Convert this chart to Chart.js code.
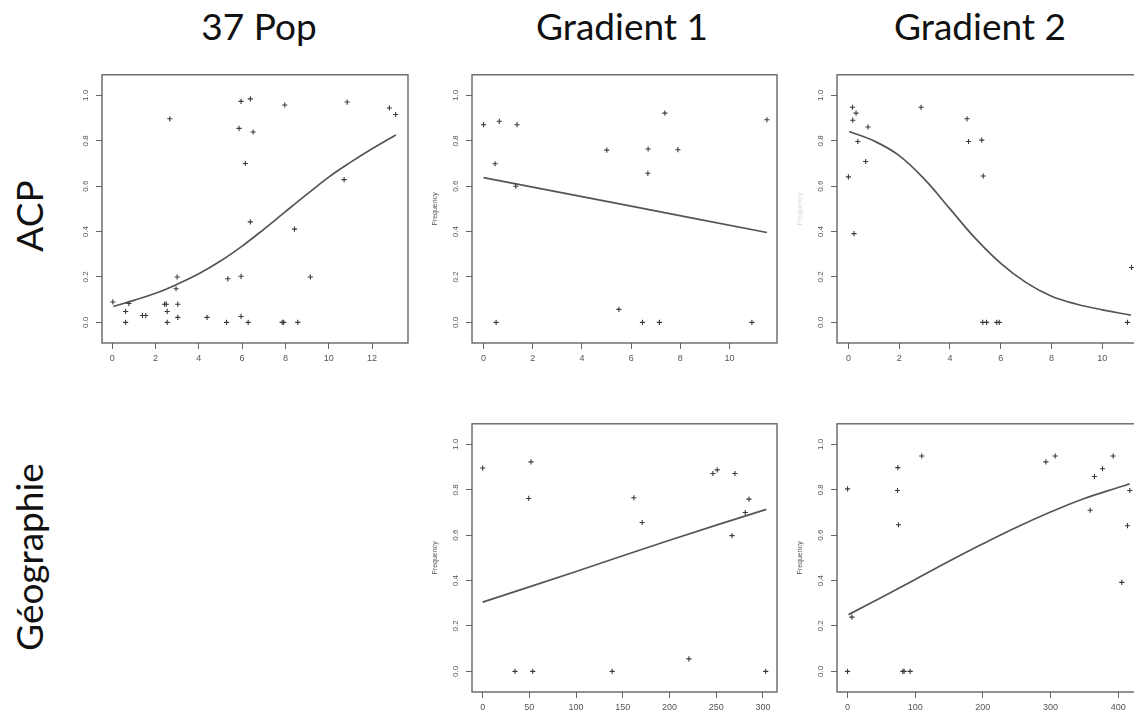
<!DOCTYPE html>
<html>
<head>
<meta charset="utf-8">
<script src="https://cdn.jsdelivr.net/npm/chart.js"></script>
<style>
  html, body { margin: 0; padding: 0; background: #fff; }
  body { width: 1134px; height: 715px; position: relative; overflow: hidden; }
  canvas { position: absolute; }
  .titre { position: absolute; top: 3px; font-family: Lato, sans-serif; font-size: 37px; color: #111; transform: translateX(-50%); white-space: nowrap; }
  .ligne { position: absolute; font-family: Lato, sans-serif; font-size: 37px; color: #111; transform: translate(-50%, -50%) rotate(-90deg); white-space: nowrap; }
</style>
</head>
<body>
<div class="titre" style="left:259px">37 Pop</div>
<div class="titre" style="left:622px">Gradient 1</div>
<div class="titre" style="left:980px">Gradient 2</div>
<div class="ligne" style="left:28px; top:216px">ACP</div>
<div class="ligne" style="left:28px; top:557px">Géographie</div>

<canvas id="pop37"></canvas>
<canvas id="grad1Acp"></canvas>
<canvas id="grad2Acp"></canvas>
<canvas id="grad1Geo"></canvas>
<canvas id="grad2Geo"></canvas>

<script>
// --- donnees ---
const yTicks = [0, 0.2, 0.4, 0.6, 0.8, 1.0];

// 37 Pop / ACP
const pop37X = [0.03, 0.62, 0.62, 0.77, 1.40, 1.55, 2.42, 2.50, 2.54, 2.54, 2.66, 3.0, 2.95, 3.03, 3.03, 4.38, 5.28, 5.34, 5.95, 5.95, 5.86, 5.95, 6.15, 6.28, 6.38, 6.38, 6.51, 7.97, 7.85, 7.92, 8.42, 8.57, 9.15, 10.71, 10.85, 12.8, 13.09];
const pop37Y = [0.09, 0.048, 0.0, 0.083, 0.03, 0.03, 0.08, 0.08, 0.048, 0.0, 0.897, 0.2, 0.148, 0.08, 0.022, 0.022, 0.0, 0.192, 0.026, 0.203, 0.855, 0.974, 0.70, 0.0, 0.985, 0.443, 0.839, 0.958, 0.0, 0.0, 0.411, 0.0, 0.2, 0.629, 0.971, 0.945, 0.916];
const pop37FitX = [0.05, 1, 2, 3, 4, 5, 6, 7, 8, 9, 10, 11, 12, 13.1];
const pop37FitY = [0.07, 0.097, 0.128, 0.168, 0.214, 0.27, 0.336, 0.41, 0.488, 0.565, 0.64, 0.705, 0.765, 0.826];
const pop37XTicks = [0, 2, 4, 6, 8, 10, 12];

// Gradient 1 / ACP
const grad1AcpX = [0.0, 0.47, 0.51, 0.64, 1.36, 1.31, 5.01, 5.5, 6.46, 6.68, 6.69, 7.15, 7.37, 7.9, 10.91, 11.52];
const grad1AcpY = [0.871, 0.699, 0.0, 0.886, 0.871, 0.60, 0.759, 0.057, 0.0, 0.657, 0.764, 0.0, 0.922, 0.761, 0.0, 0.893];
const grad1AcpFitX = [0, 6, 11.52];
const grad1AcpFitY = [0.638, 0.512, 0.396];
const grad1AcpXTicks = [0, 2, 4, 6, 8, 10];

// Gradient 2 / ACP
const grad2AcpX = [0.0, 0.16, 0.17, 0.22, 0.30, 0.37, 0.68, 0.77, 2.86, 4.67, 4.73, 5.25, 5.31, 5.29, 5.44, 5.84, 5.94, 10.99, 11.15];
const grad2AcpY = [0.641, 0.948, 0.891, 0.391, 0.922, 0.797, 0.709, 0.861, 0.948, 0.897, 0.797, 0.803, 0.645, 0.0, 0.0, 0.0, 0.0, 0.0, 0.242];
const grad2AcpFitX = [0.03, 1, 2, 3, 4, 5, 6, 7, 8, 9, 10, 11.12];
const grad2AcpFitY = [0.841, 0.80, 0.735, 0.63, 0.50, 0.37, 0.26, 0.175, 0.115, 0.08, 0.055, 0.032];
const grad2AcpXTicks = [0, 2, 4, 6, 8, 10];

// Gradient 1 / Geographie
const grad1GeoX = [0, 34.6, 49.3, 51.8, 53.6, 138.6, 161.8, 170.7, 220.7, 246.4, 251, 266.8, 270, 281, 285, 302.9];
const grad1GeoY = [0.896, 0.0, 0.762, 0.923, 0.0, 0.0, 0.765, 0.656, 0.055, 0.872, 0.888, 0.598, 0.872, 0.70, 0.759, 0.0];
const grad1GeoFitX = [0, 100, 200, 303.6];
const grad1GeoFitY = [0.305, 0.44, 0.578, 0.714];
const grad1GeoXTicks = [0, 50, 100, 150, 200, 250, 300];

// Gradient 2 / Geographie
const grad2GeoX = [0, 0, 6.4, 74.3, 73.8, 75.3, 81.7, 83.6, 92.5, 109.7, 293.2, 307, 358.7, 365, 376.9, 392.6, 405.4, 413.8, 417.2];
const grad2GeoY = [0.804, 0.0, 0.239, 0.898, 0.797, 0.646, 0.0, 0.0, 0.0, 0.949, 0.923, 0.949, 0.71, 0.859, 0.893, 0.949, 0.392, 0.642, 0.797];
const grad2GeoFitX = [1.5, 50, 100, 150, 200, 250, 300, 350, 400, 417];
const grad2GeoFitY = [0.25, 0.326, 0.405, 0.485, 0.562, 0.635, 0.702, 0.762, 0.81, 0.826];
const grad2GeoXTicks = [0, 100, 200, 300, 400];

// cadre complet autour de la zone de trace (comme box() dans R)
const cadre = {
    id: 'cadre',
    afterDraw(chart) {
        const a = chart.chartArea;
        const ctx = chart.ctx;
        ctx.save();
        ctx.strokeStyle = '#5a5a5a';
        ctx.lineWidth = 1.3;
        ctx.strokeRect(a.left, a.top, a.right - a.left, a.bottom - a.top);
        ctx.restore();
    }
};

const MARGE_G = 46, MARGE_B = 32, MARGE_H = 6, MARGE_D = 6;

function creerPanneau(id, boite, xMin, xMax, xTicks, px, py, fx, fy, titreY, couleurTitreY) {
    const canvas = document.getElementById(id);
    const w = boite.droite - boite.gauche + MARGE_G + MARGE_D;
    const h = boite.bas - boite.haut + MARGE_H + MARGE_B;
    canvas.width = w;
    canvas.height = h;
    canvas.style.left = (boite.gauche - MARGE_G) + 'px';
    canvas.style.top = (boite.haut - MARGE_H) + 'px';

    const points = px.map((x, i) => ({ x: x, y: py[i] }));
    const courbe = fx.map((x, i) => ({ x: x, y: fy[i] }));

    new Chart(canvas, {
        type: 'scatter',
        data: {
            datasets: [
                {
                    data: points,
                    pointStyle: 'cross',
                    pointRadius: 2.6,
                    borderColor: '#3a3a3a',
                    borderWidth: 1.1,
                    backgroundColor: '#3a3a3a'
                },
                {
                    type: 'line',
                    data: courbe,
                    borderColor: '#555',
                    borderWidth: 1.7,
                    pointRadius: 0,
                    fill: false,
                    tension: 0.4
                }
            ]
        },
        options: {
            responsive: false,
            devicePixelRatio: 1,
            animation: false,
            layout: { padding: { left: 0, top: MARGE_H, right: MARGE_D, bottom: 0 } },
            plugins: { legend: { display: false }, tooltip: { enabled: false } },
            scales: {
                x: {
                    type: 'linear',
                    min: xMin,
                    max: xMax,
                    afterBuildTicks: s => { s.ticks = xTicks.map(v => ({ value: v })); },
                    afterFit: s => { s.height = MARGE_B; },
                    border: { display: false },
                    grid: { drawOnChartArea: false, drawTicks: true, tickLength: 6, color: '#666', lineWidth: 1 },
                    ticks: {
                        autoSkip: false, maxRotation: 0, padding: 4,
                        color: '#555', font: { family: 'Liberation Sans', size: 9 },
                        callback: v => String(v)
                    }
                },
                y: {
                    type: 'linear',
                    min: -0.091,
                    max: 1.091,
                    afterBuildTicks: s => { s.ticks = yTicks.map(v => ({ value: v })); },
                    afterFit: s => { s.width = MARGE_G; },
                    border: { display: false },
                    grid: { drawOnChartArea: false, drawTicks: true, tickLength: 6, color: '#666', lineWidth: 1 },
                    title: {
                        display: !!titreY,
                        text: titreY || '',
                        color: couleurTitreY || '#555',
                        font: { family: 'Liberation Sans', size: 7 },
                        padding: { top: 5, bottom: 0 }
                    },
                    ticks: {
                        minRotation: 90, maxRotation: 90, crossAlign: 'center', padding: 5,
                        color: '#555', font: { family: 'Liberation Sans', size: 8 },
                        callback: v => v.toFixed(1)
                    }
                }
            }
        },
        plugins: [cadre]
    });
}

creerPanneau('pop37', { gauche: 102, droite: 408, haut: 71, bas: 343 }, -0.47, 13.66, pop37XTicks,
    pop37X, pop37Y, pop37FitX, pop37FitY, '', '');
creerPanneau('grad1Acp', { gauche: 472, droite: 777, haut: 71, bas: 343 }, -0.47, 11.93, grad1AcpXTicks,
    grad1AcpX, grad1AcpY, grad1AcpFitX, grad1AcpFitY, 'Frequency', '#555');
creerPanneau('grad2Acp', { gauche: 837, droite: 1145, haut: 71, bas: 343 }, -0.45, 11.68, grad2AcpXTicks,
    grad2AcpX, grad2AcpY, grad2AcpFitX, grad2AcpFitY, 'Frequency', '#d8d8d8');
creerPanneau('grad1Geo', { gauche: 472, droite: 777, haut: 420, bas: 692 }, -11.4, 315.0, grad1GeoXTicks,
    grad1GeoX, grad1GeoY, grad1GeoFitX, grad1GeoFitY, 'Frequency', '#555');
creerPanneau('grad2Geo', { gauche: 837, droite: 1141, haut: 420, bas: 692 }, -15.6, 433.8, grad2GeoXTicks,
    grad2GeoX, grad2GeoY, grad2GeoFitX, grad2GeoFitY, 'Frequency', '#555');
</script>
</body>
</html>
